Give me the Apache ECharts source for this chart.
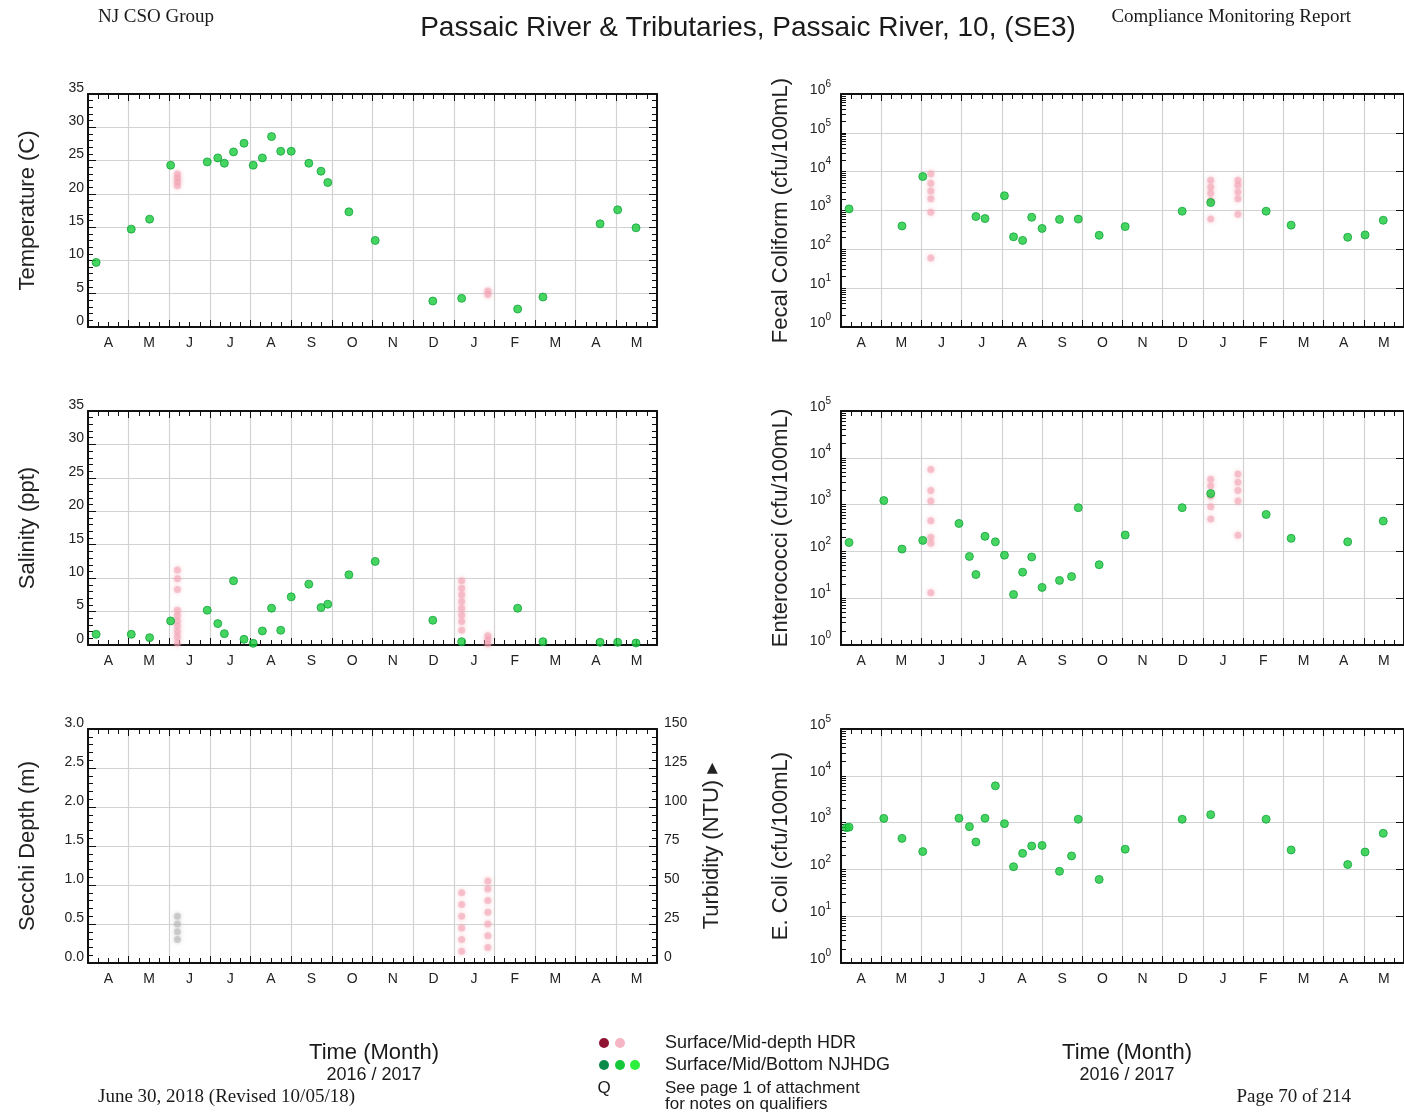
<!DOCTYPE html>
<html>
<head>
<meta charset="utf-8">
<script src="https://cdn.jsdelivr.net/npm/echarts@6/dist/echarts.min.js"></script>
<style>
  html, body { margin: 0; padding: 0; background: #fff; }
  #chart { width: 1404px; height: 1115px; }
</style>
</head>
<body>
<div id="chart"></div>
<script>
// ---- Axis labels ----
const monthLabels = ['A', 'M', 'J', 'J', 'A', 'S', 'O', 'N', 'D', 'J', 'F', 'M', 'A', 'M'];
const monthLabelPositions = [0.5, 1.5, 2.5, 3.5, 4.5, 5.5, 6.5, 7.5, 8.5, 9.5, 10.5, 11.5, 12.5, 13.5];
const logMajorTicks = [1, 10, 100, 1000, 10000, 100000, 1000000];
const logMinorTicks = [
  1, 2, 3, 4, 5, 6, 7, 8, 9,
  10, 20, 30, 40, 50, 60, 70, 80, 90,
  100, 200, 300, 400, 500, 600, 700, 800, 900,
  1000, 2000, 3000, 4000, 5000, 6000, 7000, 8000, 9000,
  10000, 20000, 30000, 40000, 50000, 60000, 70000, 80000, 90000,
  100000, 200000, 300000, 400000, 500000, 600000, 700000, 800000, 900000, 1000000
];

// ---- Temperature (C) ----
const tempNJHDG = [
  ['2016-04-07', 9.7], ['2016-05-03', 14.7], ['2016-05-17', 16.2], ['2016-06-02', 24.3],
  ['2016-06-29', 24.8], ['2016-07-07', 25.4], ['2016-07-12', 24.6], ['2016-07-19', 26.3],
  ['2016-07-27', 27.6], ['2016-08-03', 24.3], ['2016-08-10', 25.4], ['2016-08-17', 28.6],
  ['2016-08-24', 26.4], ['2016-09-01', 26.4], ['2016-09-14', 24.6], ['2016-09-23', 23.4],
  ['2016-09-28', 21.7], ['2016-10-14', 17.3], ['2016-11-03', 13.0], ['2016-12-16', 3.9],
  ['2017-01-07', 4.3], ['2017-02-17', 2.7], ['2017-03-07', 4.5], ['2017-04-19', 15.5],
  ['2017-05-02', 17.6], ['2017-05-16', 14.9]
];
const tempHDR = [
  ['2016-06-07', 21.2], ['2016-06-07', 21.8], ['2016-06-07', 22.4], ['2016-06-07', 23.0],
  ['2017-01-27', 4.9], ['2017-01-27', 5.4]
];

// ---- Salinity (ppt) ----
const salNJHDG = [
  ['2016-04-07', 1.6], ['2016-05-03', 1.6], ['2016-05-17', 1.1], ['2016-06-02', 3.6],
  ['2016-06-29', 5.2], ['2016-07-07', 3.2], ['2016-07-12', 1.7], ['2016-07-19', 9.6],
  ['2016-07-27', 0.85], ['2016-08-03', 0.25], ['2016-08-10', 2.1], ['2016-08-17', 5.5],
  ['2016-08-24', 2.2], ['2016-09-01', 7.2], ['2016-09-14', 9.1], ['2016-09-23', 5.6],
  ['2016-09-28', 6.1], ['2016-10-14', 10.5], ['2016-11-03', 12.5], ['2016-12-16', 3.7],
  ['2017-01-07', 0.5], ['2017-02-17', 5.5], ['2017-03-07', 0.5], ['2017-04-19', 0.4],
  ['2017-05-02', 0.4], ['2017-05-16', 0.3]
];
const salHDR = [
  ['2016-06-07', 0.3], ['2016-06-07', 1.2], ['2016-06-07', 2.0], ['2016-06-07', 2.8],
  ['2016-06-07', 3.6], ['2016-06-07', 4.4], ['2016-06-07', 5.2], ['2016-06-07', 8.3],
  ['2016-06-07', 9.9], ['2016-06-07', 11.2],
  ['2017-01-07', 2.2], ['2017-01-07', 3.5], ['2017-01-07', 4.5], ['2017-01-07', 5.5],
  ['2017-01-07', 6.5], ['2017-01-07', 7.5], ['2017-01-07', 8.5], ['2017-01-07', 9.6],
  ['2017-01-27', 0.2], ['2017-01-27', 0.8], ['2017-01-27', 1.4]
];

// ---- Secchi depth (m) ----
const secchiHDR = [
  ['2017-01-07', 0.15], ['2017-01-07', 0.3], ['2017-01-07', 0.45], ['2017-01-07', 0.6],
  ['2017-01-07', 0.75], ['2017-01-07', 0.9],
  ['2017-01-27', 0.2], ['2017-01-27', 0.35], ['2017-01-27', 0.5], ['2017-01-27', 0.65],
  ['2017-01-27', 0.8], ['2017-01-27', 0.95], ['2017-01-27', 1.05]
];
const secchiGrey = [
  ['2016-06-07', 0.3], ['2016-06-07', 0.4], ['2016-06-07', 0.5], ['2016-06-07', 0.6]
];

// ---- Fecal coliform (cfu/100mL) ----
const fecalNJHDG = [
  ['2016-04-07', 1100], ['2016-05-17', 400], ['2016-06-02', 7500], ['2016-07-12', 700],
  ['2016-07-19', 620], ['2016-08-03', 2400], ['2016-08-10', 210], ['2016-08-17', 170],
  ['2016-08-24', 670], ['2016-09-01', 345], ['2016-09-14', 590], ['2016-09-28', 600],
  ['2016-10-14', 230], ['2016-11-03', 385], ['2016-12-16', 960], ['2017-01-07', 1600],
  ['2017-02-17', 960], ['2017-03-07', 420], ['2017-04-19', 205], ['2017-05-02', 235],
  ['2017-05-16', 560]
];
const fecalHDR = [
  ['2016-06-08', 900], ['2016-06-08', 2000], ['2016-06-08', 3200], ['2016-06-08', 5000],
  ['2016-06-08', 8900], ['2016-06-08', 60],
  ['2017-01-07', 600], ['2017-01-07', 1800], ['2017-01-07', 2800], ['2017-01-07', 4000],
  ['2017-01-07', 6000],
  ['2017-01-28', 800], ['2017-01-28', 2000], ['2017-01-28', 3000], ['2017-01-28', 4500],
  ['2017-01-28', 6000]
];

// ---- Enterococci (cfu/100mL) ----
const enteroNJHDG = [
  ['2016-04-07', 155], ['2016-05-03', 1220], ['2016-05-17', 112], ['2016-06-02', 172],
  ['2016-06-29', 395], ['2016-07-07', 78], ['2016-07-12', 32], ['2016-07-19', 210],
  ['2016-07-27', 160], ['2016-08-03', 83], ['2016-08-10', 12], ['2016-08-17', 36],
  ['2016-08-24', 76], ['2016-09-01', 17], ['2016-09-14', 24], ['2016-09-23', 29],
  ['2016-09-28', 860], ['2016-10-14', 52], ['2016-11-03', 224], ['2016-12-16', 860],
  ['2017-01-07', 1720], ['2017-02-17', 615], ['2017-03-07', 190], ['2017-04-19', 160],
  ['2017-05-16', 445]
];
const enteroHDR = [
  ['2016-06-08', 13], ['2016-06-08', 150], ['2016-06-08', 200], ['2016-06-08', 450],
  ['2016-06-08', 1200], ['2016-06-08', 2000], ['2016-06-08', 5600],
  ['2017-01-07', 490], ['2017-01-07', 900], ['2017-01-07', 1500], ['2017-01-07', 2500],
  ['2017-01-07', 3500],
  ['2017-01-28', 220], ['2017-01-28', 1200], ['2017-01-28', 2000], ['2017-01-28', 3000],
  ['2017-01-28', 4500]
];

// ---- E. coli (cfu/100mL) ----
const ecoliNJHDG = [
  ['2016-04-05', 780], ['2016-04-07', 800], ['2016-05-03', 1230], ['2016-05-17', 460],
  ['2016-06-02', 240], ['2016-06-29', 1240], ['2016-07-07', 820], ['2016-07-12', 385],
  ['2016-07-19', 1240], ['2016-07-27', 6100], ['2016-08-03', 950], ['2016-08-10', 114],
  ['2016-08-17', 220], ['2016-08-24', 316], ['2016-09-01', 325], ['2016-09-14', 91],
  ['2016-09-23', 194], ['2016-09-28', 1180], ['2016-10-14', 61], ['2016-11-03', 270],
  ['2016-12-16', 1180], ['2017-01-07', 1480], ['2017-02-17', 1180], ['2017-03-07', 260],
  ['2017-04-19', 127], ['2017-05-02', 235], ['2017-05-16', 590]
];

// ---- Colours ----
const GREEN = '#19cb3a';
const GREEN_EDGE = '#12a23c';
const PINK = '#f3a2b2';
const GREY_MARK = '#b4b4b4';
const INK = '#111';
const GRID_LINE = '#d2d2d2';
const SANS = '"Liberation Sans", Arial, sans-serif';
const SERIF = '"Liberation Serif", "Times New Roman", serif';

// Fractional month index, April 2016 = 0
function monthPos(d) {
  const p = d.split('-').map(Number);
  const dim = new Date(p[0], p[1], 0).getDate();
  return (p[0] - 2016) * 12 + (p[1] - 4) + (p[2] - 1) / dim;
}
const toXY = arr => arr.map(r => [monthPos(r[0]), r[1]]);

const panels = [
  { left: 88, top: 94, height: 233, kind: 'lin', min: 0, max: 35, interval: 5, dec: 0, name: 'Temperature (C)' },
  { left: 841, top: 94, height: 233, kind: 'log', min: 1, max: 1e6, name: 'Fecal Coliform (cfu/100mL)' },
  { left: 88, top: 411, height: 234, kind: 'lin', min: 0, max: 35, interval: 5, dec: 0, name: 'Salinity (ppt)' },
  { left: 841, top: 411, height: 234, kind: 'log', min: 1, max: 1e5, name: 'Enterococci (cfu/100mL)' },
  { left: 88, top: 729, height: 234, kind: 'lin', min: 0, max: 3, interval: 0.5, dec: 1, name: 'Secchi Depth (m)', turbidity: true },
  { left: 841, top: 729, height: 234, kind: 'log', min: 1, max: 1e5, name: 'E. Coli (cfu/100mL)' }
];

const grids = [], xAxes = [], yAxes = [];
const axisLineStyle = { color: INK, width: 2 };
const tickStyle = { color: INK, width: 1 };
const tickLabel = { fontFamily: SANS, fontSize: 14, color: '#222', verticalAlign: 'bottom', lineHeight: 12 };

panels.forEach((p, g) => {
  grids.push({ left: p.left, top: p.top, width: 569, height: p.height, containLabel: false });

  const xBase = {
    gridIndex: g, type: 'value', min: 0, max: 14, interval: 1,
    axisLine: { show: true, onZero: false, lineStyle: axisLineStyle },
    axisTick: { show: true, inside: true, length: 7, lineStyle: tickStyle },
    minorTick: { show: true, splitNumber: 4, length: 5, lineStyle: tickStyle }
  };
  xAxes.push(Object.assign({}, xBase, {
    position: 'bottom',
    splitLine: { show: true, lineStyle: { color: GRID_LINE, width: 1.2 } },
    axisLabel: {
      show: true, customValues: monthLabelPositions,
      formatter: v => monthLabels[Math.floor(v)],
      fontFamily: SANS, fontSize: 14, color: '#222', margin: 9
    }
  }));
  xAxes.push(Object.assign({}, xBase, {
    position: 'top', splitLine: { show: false }, axisLabel: { show: false }
  }));

  const nameStyle = { fontFamily: SANS + ', "DejaVu Sans"', fontSize: 22, color: '#222' };
  if (p.kind === 'lin') {
    const yBase = {
      gridIndex: g, type: 'value', min: p.min, max: p.max, interval: p.interval,
      axisLine: { show: true, onZero: false, lineStyle: axisLineStyle },
      axisTick: { show: true, inside: true, length: 8, lineStyle: tickStyle },
      minorTick: { show: true, splitNumber: 5, length: 5, lineStyle: tickStyle }
    };
    yAxes.push(Object.assign({}, yBase, {
      position: 'left', name: p.name, nameLocation: 'middle', nameGap: 49, nameTextStyle: nameStyle,
      splitLine: { show: true, lineStyle: { color: GRID_LINE, width: 1.2 } },
      axisLabel: Object.assign({ margin: 4, formatter: v => v.toFixed(p.dec) }, tickLabel)
    }));
    if (p.turbidity) {
      yAxes.push({
        gridIndex: g, type: 'value', position: 'right', min: 0, max: 150, interval: 25,
        name: 'Turbidity (NTU) \u25B8', nameLocation: 'middle', nameGap: 44, nameTextStyle: nameStyle,
        axisLine: { show: true, onZero: false, lineStyle: axisLineStyle },
        axisTick: { show: true, inside: true, length: 8, lineStyle: tickStyle },
        minorTick: { show: true, splitNumber: 5, length: 5, lineStyle: tickStyle },
        splitLine: { show: false },
        axisLabel: Object.assign({ margin: 7 }, tickLabel)
      });
    } else {
      yAxes.push(Object.assign({}, yBase, {
        position: 'right', splitLine: { show: false }, axisLabel: { show: false }
      }));
    }
  } else {
    // left: decade labels plus 2..9 ticks; right: decade ticks and grid lines
    yAxes.push({
      gridIndex: g, type: 'log', logBase: 10, min: p.min, max: p.max, position: 'left',
      name: p.name, nameLocation: 'middle', nameGap: 49, nameTextStyle: nameStyle,
      axisLine: { show: true, onZero: false, lineStyle: axisLineStyle },
      axisTick: { show: true, inside: true, length: 5, lineStyle: tickStyle, customValues: logMinorTicks.filter(v => v <= p.max) },
      splitLine: { show: false },
      axisLabel: {
        customValues: logMajorTicks.filter(v => v <= p.max),
        margin: 10, padding: [0, 0, 12, 0],
        formatter: v => '{b|10}{s|' + Math.round(Math.log10(v)) + '}',
        rich: {
          b: { fontFamily: SANS, fontSize: 14, color: '#222', lineHeight: 18, verticalAlign: 'bottom' },
          s: { fontFamily: SANS, fontSize: 10, color: '#222', lineHeight: 12, verticalAlign: 'top' }
        }
      }
    });
    yAxes.push({
      gridIndex: g, type: 'log', logBase: 10, min: p.min, max: p.max, position: 'right',
      axisLine: { show: true, onZero: false, lineStyle: axisLineStyle },
      axisTick: { show: true, inside: true, length: 8, lineStyle: tickStyle },
      splitLine: { show: true, lineStyle: { color: GRID_LINE, width: 1.2 } },
      axisLabel: { show: false }
    });
  }
});

function njhdg(name, g, data) {
  return {
    name: name, type: 'scatter', xAxisIndex: 2 * g, yAxisIndex: 2 * g, data: toXY(data),
    symbol: 'circle', symbolSize: 8, z: 5,
    itemStyle: { color: GREEN, borderColor: GREEN_EDGE, borderWidth: 1 }
  };
}
function hdr(name, g, data, color) {
  const c = color || PINK;
  return {
    name: name, type: 'scatter', xAxisIndex: 2 * g, yAxisIndex: 2 * g, data: toXY(data),
    symbol: 'circle', symbolSize: 7, z: 4,
    itemStyle: { color: c, opacity: 0.55, shadowBlur: 4, shadowColor: c }
  };
}

const series = [
  hdr('Temperature HDR', 0, tempHDR), njhdg('Temperature NJHDG', 0, tempNJHDG),
  hdr('Fecal HDR', 1, fecalHDR), njhdg('Fecal NJHDG', 1, fecalNJHDG),
  hdr('Salinity HDR', 2, salHDR), njhdg('Salinity NJHDG', 2, salNJHDG),
  hdr('Enterococci HDR', 3, enteroHDR), njhdg('Enterococci NJHDG', 3, enteroNJHDG),
  hdr('Secchi HDR', 4, secchiHDR), hdr('Secchi grey', 4, secchiGrey, GREY_MARK),
  njhdg('E. coli NJHDG', 5, ecoliNJHDG)
];

const txt = (x, y, text, font, align) => ({
  type: 'text', x: x, y: y, silent: true,
  style: { text: text, font: font, fill: '#1a1a1a', align: align || 'left', verticalAlign: 'middle' }
});

const graphic = [
  txt(98, 17, 'NJ CSO Group', '19px ' + SERIF),
  txt(748, 28, 'Passaic River & Tributaries, Passaic River, 10, (SE3)', '28px ' + SANS, 'center'),
  txt(1351, 17, 'Compliance Monitoring Report', '19px ' + SERIF, 'right'),
  txt(374, 1053, 'Time (Month)', '22px ' + SANS, 'center'),
  txt(374, 1075, '2016 / 2017', '18px ' + SANS, 'center'),
  txt(1127, 1053, 'Time (Month)', '22px ' + SANS, 'center'),
  txt(1127, 1075, '2016 / 2017', '18px ' + SANS, 'center'),
  txt(98, 1097, 'June 30, 2018 (Revised 10/05/18)', '19px ' + SERIF),
  txt(1351, 1097, 'Page 70 of 214', '19px ' + SERIF, 'right'),
  { type: 'circle', shape: { cx: 604, cy: 1043, r: 5 }, style: { fill: '#8e1432' } },
  { type: 'circle', shape: { cx: 620, cy: 1043, r: 5 }, style: { fill: '#f5b5c2' } },
  { type: 'circle', shape: { cx: 604, cy: 1065, r: 5 }, style: { fill: '#0b8a4a' } },
  { type: 'circle', shape: { cx: 620, cy: 1065, r: 5 }, style: { fill: '#16c83a' } },
  { type: 'circle', shape: { cx: 635, cy: 1065, r: 5 }, style: { fill: '#2cf03c' } },
  txt(665, 1043, 'Surface/Mid-depth HDR', '18px ' + SANS),
  txt(665, 1065, 'Surface/Mid/Bottom NJHDG', '18px ' + SANS),
  txt(604, 1088, 'Q', '17px ' + SANS, 'center'),
  txt(665, 1088, 'See page 1 of attachment', '17px ' + SANS),
  txt(665, 1104, 'for notes on qualifiers', '17px ' + SANS)
];

const chart = echarts.init(document.getElementById('chart'), null, { renderer: 'canvas' });
chart.setOption({
  animation: false,
  backgroundColor: '#fff',
  grid: grids,
  xAxis: xAxes,
  yAxis: yAxes,
  series: series,
  graphic: graphic
});
</script>
</body>
</html>
